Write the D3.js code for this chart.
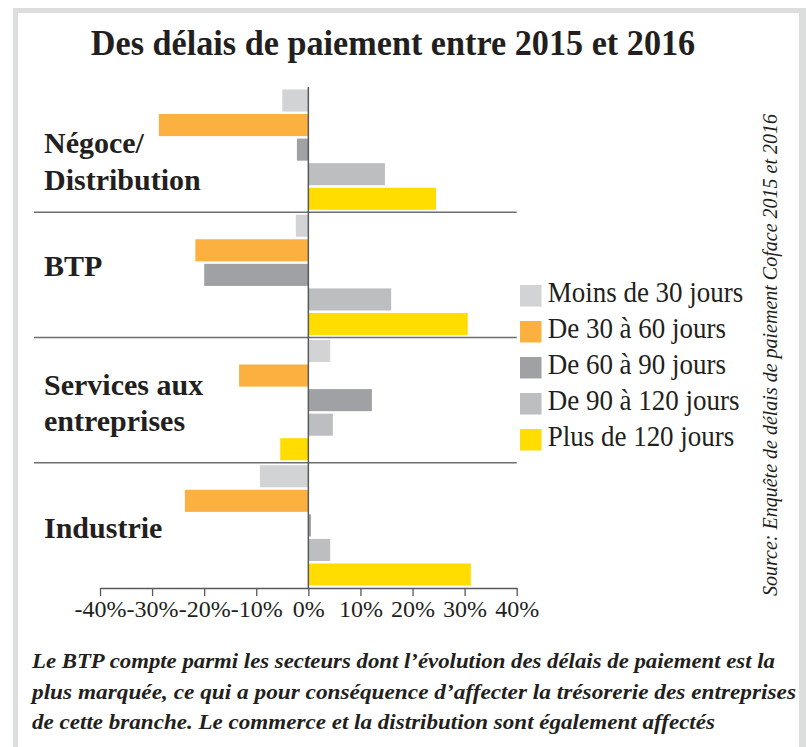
<!DOCTYPE html>
<html>
<head>
<meta charset="utf-8">
<script src="https://cdn.jsdelivr.net/npm/d3@7"></script>
<style>
  html, body { margin: 0; padding: 0; background: #fff; }
  svg { display: block; }
</style>
</head>
<body>
<div id="chart"></div>
<script>
// ---- data ----
const categories = ["Négoce/Distribution", "BTP", "Services aux entreprises", "Industrie"];
const categoryLines = [["Négoce/", "Distribution"], ["BTP"], ["Services aux", "entreprises"], ["Industrie"]];
const seriesNames = ["Moins de 30 jours", "De 30 à 60 jours", "De 60 à 90 jours", "De 90 à 120 jours", "Plus de 120 jours"];
const seriesColors = ["#d1d3d4", "#fbb040", "#a0a1a5", "#bcbec0", "#ffdd00"];
const moins30   = [-5.0, -2.4,   4.2,  -9.3];
const de30a60   = [-28.7, -21.7, -13.3, -23.7];
const de60a90   = [-2.2, -20.0, 12.2,   0.5];
const de90a120  = [14.7, 15.9,   4.7,   4.2];
const plus120   = [24.5, 30.6,  -5.4,  31.2];
const tickValues = [-40, -30, -20, -10, 0, 10, 20, 30, 40];
const tickLabels = ["-40%", "-30%", "-20%", "-10%", "0%", "10%", "20%", "30%", "40%"];
const title = "Des délais de paiement entre 2015 et 2016";
const source = "Source: Enquête de délais de paiement Coface 2015 et 2016";
const captionLines = [
  "Le BTP compte parmi les secteurs dont l\u2019évolution des délais de paiement est la",
  "plus marquée, ce qui a pour conséquence d\u2019affecter la trésorerie des entreprises",
  "de cette branche. Le commerce et la distribution sont également affectés"
];

const seriesValues = [moins30, de30a60, de60a90, de90a120, plus120];

// ---- layout ----
const W = 806, H = 747;
const ink = "#231f20";
const serif = "'Liberation Serif', 'Times New Roman', serif";

const svg = d3.select("#chart").append("svg")
  .attr("width", W).attr("height", H);

// frame
svg.append("rect").attr("x", 0).attr("y", 0).attr("width", W).attr("height", H).attr("fill", "#fff");
svg.append("rect").attr("x", 13).attr("y", 8).attr("width", W - 13).attr("height", H - 8).attr("fill", "#dcdddd");
svg.append("rect").attr("x", 18).attr("y", 13).attr("width", 799 - 18).attr("height", H - 13).attr("fill", "#fff");

// title
svg.append("text")
  .attr("transform", "translate(393,55) scale(0.95,1)")
  .attr("text-anchor", "middle")
  .attr("font-family", serif).attr("font-weight", "bold").attr("font-size", 36)
  .attr("fill", ink)
  .text(title);

// scales
const x = d3.scaleLinear().domain([-40, 40]).range([100, 516.7]);
const y0 = d3.scaleBand().domain(categories).range([87, 588]).padding(0);
const y1 = d3.scaleBand().domain(seriesNames).range([0, y0.bandwidth()]).paddingInner(0.1).paddingOuter(0.1);

// bars
const groups = svg.append("g").selectAll("g")
  .data(categories)
  .join("g")
  .attr("transform", d => `translate(0,${y0(d)})`);

groups.selectAll("rect")
  .data((c, ci) => seriesNames.map((s, si) => ({ s, si, v: seriesValues[si][ci] })))
  .join("rect")
  .attr("x", d => x(Math.min(0, d.v)))
  .attr("width", d => Math.abs(x(d.v) - x(0)))
  .attr("y", d => y1(d.s))
  .attr("height", y1.bandwidth())
  .attr("fill", d => seriesColors[d.si]);

// separators between categories
svg.append("g").selectAll("line")
  .data(categories.slice(1))
  .join("line")
  .attr("x1", 34).attr("x2", x(40))
  .attr("y1", d => y0(d)).attr("y2", d => y0(d))
  .attr("stroke", "#6d6e71").attr("stroke-width", 1.6);

// zero line
svg.append("line")
  .attr("x1", x(0)).attr("x2", x(0))
  .attr("y1", 87).attr("y2", 588)
  .attr("stroke", "#58595b").attr("stroke-width", 1.5);

// x axis
const axis = d3.axisBottom(x)
  .tickValues(tickValues)
  .tickFormat((d, i) => tickLabels[i])
  .tickSize(8)
  .tickSizeOuter(0);
const gx = svg.append("g").attr("transform", "translate(0,588)").call(axis);
gx.select(".domain").attr("stroke", "#58595b").attr("stroke-width", 1.5);
gx.selectAll(".tick line").attr("stroke", "#58595b").attr("stroke-width", 1.3);
gx.selectAll(".tick text")
  .attr("font-family", serif).attr("font-size", 24).attr("fill", ink)
  .attr("y", 12).attr("dy", "0.71em");

// category labels
const labelBaselines = [[152.7, 190], [276], [395, 431], [538]];
categories.forEach((c, i) => {
  const t = svg.append("text")
    .attr("font-family", serif).attr("font-weight", "bold").attr("font-size", 30)
    .attr("fill", ink);
  categoryLines[i].forEach((line, j) => {
    t.append("tspan").attr("x", 44).attr("y", labelBaselines[i][j]).text(line);
  });
});

// legend
const legend = svg.append("g").attr("transform", "translate(520,285)");
const li = legend.selectAll("g").data(seriesNames).join("g")
  .attr("transform", (d, i) => `translate(0,${i * 36})`);
li.append("rect").attr("width", 21.5).attr("height", 21.5)
  .attr("fill", (d, i) => seriesColors[i]);
li.append("text")
  .attr("transform", "translate(27.7,17.3) scale(0.9,1)")
  .attr("font-family", serif).attr("font-size", 30).attr("fill", ink)
  .text(d => d);

// source (rotated)
svg.append("text")
  .attr("transform", "translate(777,355) rotate(-90)")
  .attr("text-anchor", "middle")
  .attr("font-family", serif).attr("font-style", "italic").attr("font-size", 20)
  .attr("fill", ink)
  .text(source);

// caption
const capWidths = [743, 764, 683];
captionLines.forEach((line, i) => {
  svg.append("text")
    .attr("x", 32).attr("y", 668.3 + i * 30.5)
    .attr("font-family", serif).attr("font-weight", "bold").attr("font-style", "italic")
    .attr("font-size", 22)
    .attr("textLength", capWidths[i]).attr("lengthAdjust", "spacingAndGlyphs")
    .attr("fill", ink)
    .text(line);
});
</script>
</body>
</html>
